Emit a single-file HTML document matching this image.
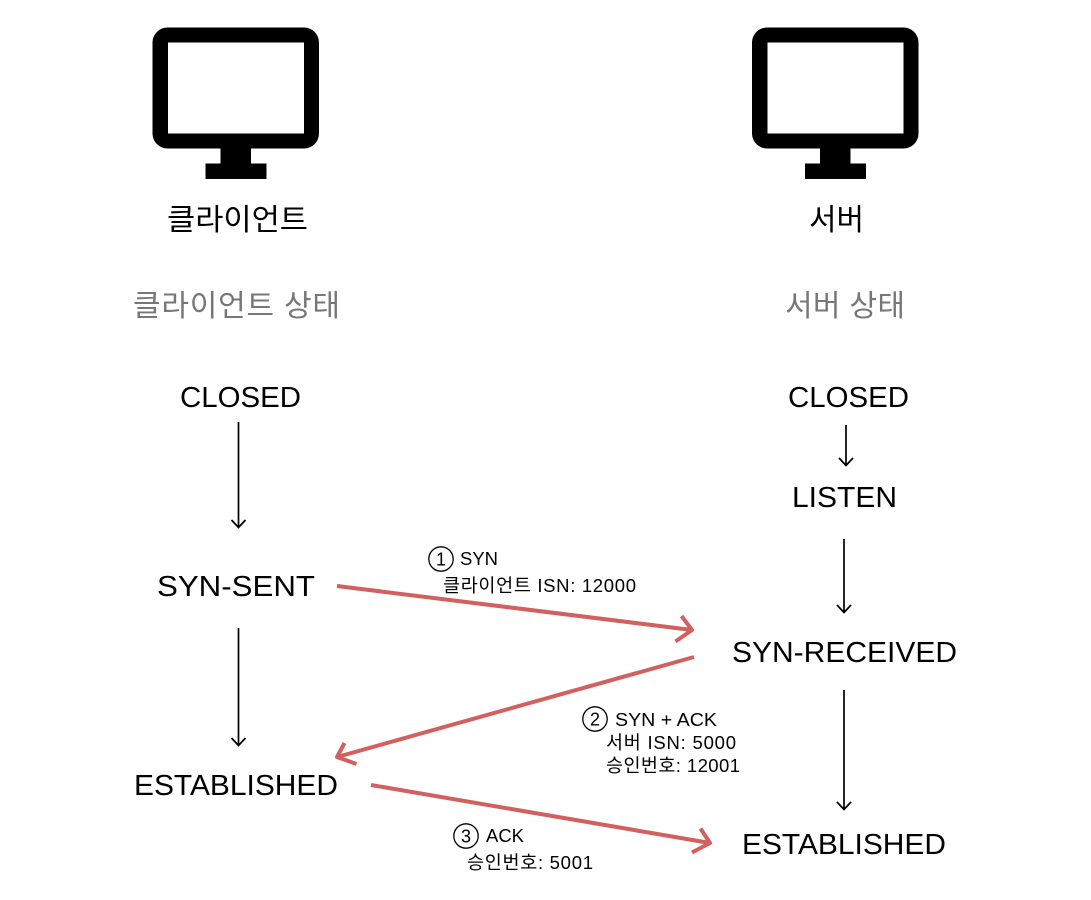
<!DOCTYPE html>
<html lang="ko"><head><meta charset="utf-8"><style>
html,body{margin:0;padding:0;background:#fff;width:1091px;height:900px;overflow:hidden}
svg{display:block}
text{font-family:"Liberation Sans","Noto Sans CJK KR",sans-serif;fill:#000}
.k{font-family:"Noto Sans CJK KR","Liberation Sans",sans-serif}
.s{font-size:29px}
.m{font-size:18.5px}
.b{fill:none;stroke:#000;stroke-width:1.7}
.r{fill:none;stroke:#d1605e;stroke-width:4;stroke-linejoin:round}
</style></head><body>
<svg width="1091" height="900" viewBox="0 0 1091 900" xmlns="http://www.w3.org/2000/svg">
<g id="i">
<path fill-rule="evenodd" d="M168 27.5H304A15 15 0 0 1 319 42.5V133.5A15 15 0 0 1 304 148.5H251V163.5H266.500V179H205.500V163.500H220.500V148.500H168A15 15 0 0 1 152.500 133.500V42.500A15 15 0 0 1 168 27.500ZM168 42.500V133.500H304V42.500Z"/>
</g>
<use href="#i" x="599.5"/>

<text class="k" x="167" y="230" font-size="30" textLength="141" lengthAdjust="spacingAndGlyphs">클라이언트</text>
<text class="k" x="809" y="230" font-size="30" textLength="55" lengthAdjust="spacingAndGlyphs">서버</text>
<text class="k" x="133" y="316" font-size="30" textLength="207" style="fill:#777">클라이언트 상태</text>
<text class="k" x="785" y="316" font-size="30" textLength="120" style="fill:#777">서버 상태</text>

<text class="s" x="180" y="407" textLength="121" lengthAdjust="spacingAndGlyphs">CLOSED</text>
<text class="s" x="788" y="407" textLength="121" lengthAdjust="spacingAndGlyphs">CLOSED</text>
<text class="s" x="792" y="507" textLength="105" lengthAdjust="spacingAndGlyphs">LISTEN</text>
<text class="s" x="157" y="596" textLength="158" lengthAdjust="spacingAndGlyphs">SYN-SENT</text>
<text class="s" x="732" y="662" textLength="225" lengthAdjust="spacingAndGlyphs">SYN-RECEIVED</text>
<text class="s" x="134" y="795" textLength="204" lengthAdjust="spacingAndGlyphs">ESTABLISHED</text>
<text class="s" x="742" y="854" textLength="204" lengthAdjust="spacingAndGlyphs">ESTABLISHED</text>

<path class="b" d="M238.500 422V527M231.500 520L238.500 527.500L245.500 520"/>
<path class="b" d="M846 425V465M839 458L846 465.500L853 458"/>
<path class="b" d="M844 539V612M837 605L844 612.500L851 605"/>
<path class="b" d="M238.500 628V745M231.500 738L238.500 745.500L245.500 738"/>
<path class="b" d="M844 690V809M837 802L844 809.500L851 802"/>

<path class="r" d="M337 586L692 630M681.500 616L692 630L675.500 641.500"/>
<path class="r" d="M694 657L337 757M344.500 743L337 757L356.500 764"/>
<path class="r" d="M371 785L710 843M700.500 828.500L710 843L692 852.500"/>

<circle cx="441" cy="559" r="12.200" fill="none" stroke="#000" stroke-width="1.300"/>
<text x="441" y="565.500" font-size="18" text-anchor="middle">1</text>
<text class="m" x="460" y="565" textLength="38" lengthAdjust="spacingAndGlyphs">SYN</text>
<text class="m" x="443" y="592" textLength="193">클라이언트 ISN: 12000</text>

<circle cx="595" cy="719" r="12.200" fill="none" stroke="#000" stroke-width="1.300"/>
<text x="595" y="725.500" font-size="18" text-anchor="middle">2</text>
<text class="m" x="615" y="726" textLength="102" lengthAdjust="spacingAndGlyphs">SYN + ACK</text>
<text class="m" x="606" y="749" textLength="130">서버 ISN: 5000</text>
<text class="m" x="606" y="772" textLength="134">승인번호: 12001</text>

<circle cx="466" cy="836" r="12.200" fill="none" stroke="#000" stroke-width="1.300"/>
<text x="466" y="842.500" font-size="18" text-anchor="middle">3</text>
<text class="m" x="486" y="842" textLength="38" lengthAdjust="spacingAndGlyphs">ACK</text>
<text class="m" x="467" y="869" textLength="126">승인번호: 5001</text>
</svg>
</body></html>
